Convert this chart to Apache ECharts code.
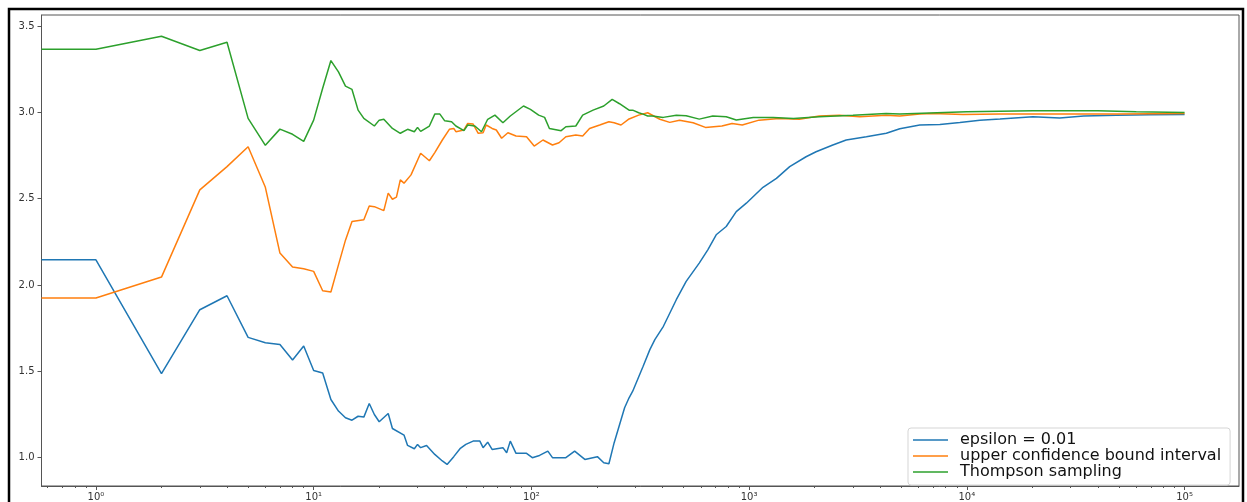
<!DOCTYPE html>
<html>
<head>
<meta charset="utf-8">
<script src="https://cdn.jsdelivr.net/npm/echarts@6/dist/echarts.min.js"></script>
<style>
  html, body { margin: 0; padding: 0; background: #fff; }
  #chart { width: 1247px; height: 502px; }
</style>
</head>
<body>
<div id="chart"></div>
<script>
// --- data (steps on a log axis, mean reward) ---
const seriesNames = ['epsilon = 0.01', 'upper confidence bound interval', 'Thompson sampling'];

const epsSteps = [0, 1, 2, 3, 4, 5, 6, 7, 8, 9, 10, 11, 12, 13, 14, 15, 16, 17, 18, 19, 20, 22, 23, 26, 27, 29, 30, 31, 33, 36, 39, 41, 44, 47, 50, 54, 58, 60, 63, 66, 74, 77, 80, 85, 95, 101, 109, 119, 125, 144, 158, 176, 201, 215, 227, 240, 268, 281, 292, 326, 350, 369, 404, 463, 514, 590, 646, 706, 785, 873, 971, 1158, 1335, 1536, 1826, 2030, 2424, 2792, 3455, 4267, 4920, 6080, 7520, 9290, 11480, 14200, 20100, 26700, 34400, 48700, 69000, 100000];
const epsValues = [2.146, 2.146, 1.487, 1.857, 1.938, 1.697, 1.666, 1.655, 1.566, 1.647, 1.505, 1.491, 1.337, 1.27, 1.231, 1.217, 1.24, 1.235, 1.314, 1.25, 1.208, 1.256, 1.169, 1.131, 1.071, 1.052, 1.077, 1.058, 1.071, 1.019, 0.981, 0.961, 1.006, 1.052, 1.077, 1.096, 1.096, 1.058, 1.09, 1.048, 1.058, 1.029, 1.096, 1.025, 1.025, 1.0, 1.013, 1.038, 1.0, 1.0, 1.038, 0.99, 1.006, 0.971, 0.965, 1.087, 1.289, 1.347, 1.385, 1.53, 1.626, 1.684, 1.761, 1.915, 2.021, 2.127, 2.204, 2.291, 2.339, 2.425, 2.474, 2.566, 2.618, 2.686, 2.743, 2.772, 2.811, 2.84, 2.859, 2.879, 2.905, 2.927, 2.93, 2.942, 2.955, 2.962, 2.975, 2.968, 2.979, 2.984, 2.986, 2.988];

const ucbSteps = [0, 1, 2, 3, 4, 5, 6, 7, 8, 9, 10, 11, 12, 13, 14, 15, 17, 18, 19, 21, 22, 23, 24, 25, 26, 28, 31, 34, 36, 39, 42, 44, 45, 49, 51, 54, 57, 60, 62, 66, 69, 73, 78, 85, 95, 103, 113, 125, 134, 144, 160, 172, 185, 206, 227, 240, 258, 281, 311, 342, 389, 432, 479, 553, 630, 750, 835, 930, 1110, 1370, 1700, 2100, 2600, 3220, 4260, 4920, 6080, 7000, 9600, 14200, 26700, 48700, 100000];
const ucbValues = [1.925, 1.925, 2.046, 2.551, 2.686, 2.801, 2.566, 2.185, 2.104, 2.094, 2.079, 1.967, 1.96, 2.117, 2.26, 2.368, 2.378, 2.458, 2.454, 2.431, 2.532, 2.497, 2.509, 2.609, 2.59, 2.638, 2.763, 2.72, 2.767, 2.84, 2.902, 2.907, 2.888, 2.898, 2.936, 2.932, 2.879, 2.882, 2.927, 2.907, 2.898, 2.85, 2.882, 2.863, 2.859, 2.805, 2.84, 2.811, 2.824, 2.859, 2.869, 2.863, 2.907, 2.927, 2.946, 2.94, 2.927, 2.962, 2.984, 2.998, 2.96, 2.942, 2.955, 2.94, 2.913, 2.921, 2.936, 2.927, 2.955, 2.965, 2.96, 2.979, 2.984, 2.975, 2.984, 2.979, 2.99, 2.994, 2.988, 2.99, 2.99, 2.99, 2.994];

const tsSteps = [0, 1, 2, 3, 4, 5, 6, 7, 8, 9, 10, 11, 12, 13, 14, 15, 16, 17, 19, 20, 21, 23, 25, 27, 29, 30, 31, 34, 36, 38, 40, 43, 45, 49, 51, 55, 59, 63, 68, 74, 80, 92, 99, 108, 115, 121, 137, 144, 160, 172, 192, 215, 235, 254, 281, 292, 311, 326, 342, 360, 403, 463, 514, 590, 681, 785, 873, 1045, 1290, 1600, 2100, 3000, 4260, 4920, 10000, 20100, 40000, 60000, 100000];
const tsValues = [3.366, 3.366, 3.441, 3.358, 3.406, 2.965, 2.809, 2.903, 2.873, 2.832, 2.955, 3.14, 3.30, 3.235, 3.152, 3.133, 3.013, 2.965, 2.921, 2.955, 2.96, 2.907, 2.879, 2.902, 2.888, 2.913, 2.89, 2.921, 2.99, 2.99, 2.951, 2.946, 2.921, 2.894, 2.927, 2.921, 2.888, 2.96, 2.984, 2.94, 2.979, 3.037, 3.017, 2.984, 2.971, 2.907, 2.894, 2.917, 2.921, 2.984, 3.013, 3.037, 3.075, 3.05, 3.013, 3.013, 2.998, 2.99, 2.979, 2.979, 2.971, 2.984, 2.98, 2.961, 2.979, 2.975, 2.956, 2.971, 2.971, 2.965, 2.975, 2.984, 2.994, 2.99, 3.003, 3.009, 3.009, 3.003, 3.0];

// tick values
const xMajorTicks = [1, 10, 100, 1000, 10000, 100000];
const yTicks = [1.0, 1.5, 2.0, 2.5, 3.0, 3.5];

// axis ranges (matplotlib-like 5% margins)
const XMIN = Math.pow(10, -0.25);
const XMAX = Math.pow(10, 5.25);
const YMIN = 0.836;
const YMAX = 3.564;

// minor ticks 2..9 per decade inside the visible range
const xMinorTicks = [];
for (let e = -1; e <= 5; e++) {
  for (let m = 2; m <= 9; m++) {
    const v = m * Math.pow(10, e);
    if (v > XMIN && v < XMAX) xMinorTicks.push(v);
  }
}

const colors = ['#1f77b4', '#ff7f0e', '#2ca02c'];
const sup = {'0': '⁰', '1': '¹', '2': '²', '3': '³', '4': '⁴', '5': '⁵', '-': '⁻'};

// step 0 cannot sit on a log axis: clip it to the left edge like matplotlib does
const toPairs = (steps, values) => steps.map((s, i) => [Math.max(s, XMIN), values[i]]);

const chart = echarts.init(document.getElementById('chart'), null, {renderer: 'canvas'});

const mkSeries = (name, steps, values, color) => ({
  name: name,
  type: 'line',
  xAxisIndex: 0,
  symbol: 'none',
  showSymbol: false,
  smooth: false,
  lineStyle: {color: color, width: 1.5},
  itemStyle: {color: color},
  data: toPairs(steps, values)
});

const option = {
  animation: false,
  backgroundColor: '#fff',
  textStyle: {fontFamily: 'DejaVu Sans'},
  grid: {
    left: 41.5, right: 8, top: 15, bottom: 15.5,
    show: true, borderColor: '#555', borderWidth: 1, backgroundColor: 'transparent'
  },
  xAxis: [
    {
      type: 'log', logBase: 10, min: XMIN, max: XMAX,
      axisLine: {show: true, lineStyle: {color: '#555', width: 1}},
      axisTick: {show: true, customValues: xMajorTicks, length: 4, lineStyle: {color: '#555'}},
      axisLabel: {
        customValues: xMajorTicks, margin: 6, color: '#333', fontSize: 10,
        formatter: v => '10' + String(Math.round(Math.log10(v))).split('').map(c => sup[c]).join('')
      },
      splitLine: {show: false},
      minorTick: {show: false}
    },
    {
      type: 'log', logBase: 10, min: XMIN, max: XMAX, position: 'bottom',
      axisLine: {show: false},
      axisTick: {show: true, customValues: xMinorTicks, length: 2, lineStyle: {color: '#555'}},
      axisLabel: {show: false},
      splitLine: {show: false}
    }
  ],
  yAxis: {
    type: 'value', min: YMIN, max: YMAX,
    axisLine: {show: true, lineStyle: {color: '#555', width: 1}},
    axisTick: {show: true, customValues: yTicks, length: 4, lineStyle: {color: '#555'}},
    axisLabel: {customValues: yTicks, margin: 7, color: '#333', fontSize: 10, formatter: v => v.toFixed(1)},
    splitLine: {show: false}
  },
  legend: {
    orient: 'vertical',
    left: 908, top: 428,
    padding: [4, 9, 5, 5],
    itemGap: 0,
    icon: 'rect',
    itemWidth: 35, itemHeight: 1.5,
    backgroundColor: 'rgba(255,255,255,0.8)',
    borderColor: '#d5d5d5', borderWidth: 1, borderRadius: 3,
    textStyle: {fontSize: 16, lineHeight: 15.5, color: '#111', fontFamily: 'DejaVu Sans', padding: [0, 0, 0, 7]},
    data: seriesNames
  },
  graphic: [
    {
      type: 'rect', silent: true, z: 100,
      shape: {x: 9, y: 9, width: 1234, height: 510},
      style: {fill: 'none', stroke: '#000', lineWidth: 2.5}
    }
  ],
  series: [
    mkSeries(seriesNames[0], epsSteps, epsValues, colors[0]),
    mkSeries(seriesNames[1], ucbSteps, ucbValues, colors[1]),
    mkSeries(seriesNames[2], tsSteps, tsValues, colors[2])
  ]
};

chart.setOption(option);
</script>
</body>
</html>
